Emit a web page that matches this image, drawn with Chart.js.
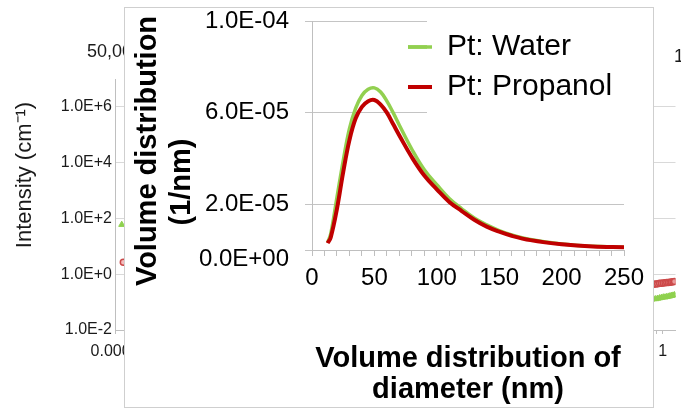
<!DOCTYPE html>
<html>
<head>
<meta charset="utf-8">
<script src="https://cdn.jsdelivr.net/npm/chart.js@4"></script>
<style>
  html, body { margin: 0; padding: 0; background: #fff; }
  #wrap { position: relative; width: 681px; height: 412px; overflow: hidden; }
  #bg { position: absolute; left: 0; top: 0; }
  #inset { position: absolute; left: 124px; top: 7px; width: 530px; height: 401px; box-sizing: border-box; border: 1px solid #cfcfcf; background: #fff; }
  #inset canvas { position: absolute; left: 0; top: 0; }
</style>
</head>
<body>
<div id="wrap">
  <canvas id="bg" width="681" height="412"></canvas>
  <div id="inset"><canvas id="myChart" width="528" height="399"></canvas></div>
</div>
<script>
Chart.defaults.font.family = "'Liberation Sans', Arial, sans-serif";

// inset: volume distribution of diameter
let diameters = [12.5, 15, 20, 25, 30, 35, 40, 45, 50, 55, 60, 65, 70, 80, 90, 100, 110, 120, 130, 140, 150, 160, 175, 200, 225, 250];
let water = [3.2e-6, 7e-6, 2.3e-5, 3.9e-5, 5.3e-5, 6.2e-5, 6.75e-5, 7.02e-5, 7.08e-5, 6.9e-5, 6.5e-5, 6.0e-5, 5.45e-5, 4.4e-5, 3.5e-5, 2.85e-5, 2.25e-5, 1.8e-5, 1.4e-5, 1.1e-5, 8.5e-6, 6.6e-6, 4.6e-6, 2.6e-6, 1.6e-6, 1.2e-6];
let propanol = [3.0e-6, 5.5e-6, 1.8e-5, 3.4e-5, 4.8e-5, 5.75e-5, 6.25e-5, 6.5e-5, 6.55e-5, 6.35e-5, 6.0e-5, 5.5e-5, 5.0e-5, 4.05e-5, 3.25e-5, 2.65e-5, 2.1e-5, 1.7e-5, 1.32e-5, 1.02e-5, 8.0e-6, 6.2e-6, 4.3e-6, 2.5e-6, 1.5e-6, 1.2e-6];
let labels = ['Pt: Water', 'Pt: Propanol'];
let colorHex = ['#92d050', '#c00000'];
let yTicks = [0, 2e-5, 6e-5, 1e-4];
let yTickLabels = ['0.0E+00', '2.0E-05', '6.0E-05', '1.0E-04'];

// background: intensity curves (only the visible edges)
let bgQ = [0.80, 0.83, 0.86, 0.89, 0.92, 0.95, 0.98, 1.01, 1.04, 1.07, 1.10, 1.13, 1.16, 1.19, 1.22];
let bgRed = [0.43, 0.44, 0.44, 0.45, 0.46, 0.47, 0.47, 0.48, 0.49, 0.50, 0.51, 0.52, 0.53, 0.54, 0.55];
let bgGreen = [0.12, 0.125, 0.13, 0.13, 0.135, 0.14, 0.145, 0.15, 0.15, 0.155, 0.16, 0.165, 0.17, 0.175, 0.18];
let bgRedLeft = [{x: 0.000115, y: 2.7}];
let bgGreenLeft = [{x: 0.000112, y: 60}];
let bgXTicks = [0.0001, 0.001, 0.01, 0.1, 1];
let bgXTickLabels = ['0.0001', '0.001', '0.01', '0.1', '1'];
let bgYTicks = [1e-2, 1, 1e2, 1e4, 1e6];
let bgYTickLabels = ['1.0E-2', '1.0E+0', '1.0E+2', '1.0E+4', '1.0E+6'];

const freeText = {
    id: 'freeText',
    afterDraw(chart, args, opts) {
        const c = chart.ctx;
        (opts.items || []).forEach(t => {
            c.save();
            c.translate(t.x, t.y);
            c.rotate(t.rot || 0);
            c.font = t.font;
            c.fillStyle = t.color || '#000';
            c.textAlign = t.align || 'center';
            c.textBaseline = 'middle';
            c.fillText(t.text, 0, 0);
            c.restore();
        });
    }
};

// background chart
let bgMinor = [];
bgXTicks.forEach(d => { for (let k = 1; k < 10; k++) { if (k * d <= 1.24) bgMinor.push(k * d); } });

new Chart(document.getElementById('bg').getContext('2d'), {
    type: 'scatter',
    data: {
        datasets: [{
            data: bgRedLeft.concat(bgQ.map((q, i) => ({x: q, y: bgRed[i]}))),
            pointStyle: 'circle',
            pointRadius: 3,
            borderWidth: 1.5,
            borderColor: '#cc4a4a',
            backgroundColor: 'rgba(236,160,160,0.7)'
        }, {
            data: bgGreenLeft.concat(bgQ.map((q, i) => ({x: q, y: bgGreen[i]}))),
            pointStyle: 'triangle',
            pointRadius: 3.5,
            borderWidth: 1,
            borderColor: '#8fd14f',
            backgroundColor: '#8fd14f'
        }]
    },
    options: {
        responsive: false,
        animation: false,
        layout: { padding: { top: 79, right: 0, left: 0, bottom: 0 } },
        scales: {
            x: {
                type: 'logarithmic',
                min: 0.0001,
                max: 1.24,
                afterFit: s => { s.height = 82; },
                afterBuildTicks: s => { s.ticks = bgMinor.map(v => ({value: v})); },
                grid: { drawOnChartArea: false, tickLength: 4, color: '#bfbfbf' },
                border: { color: '#bfbfbf' },
                ticks: {
                    autoSkip: false, maxRotation: 0, padding: 8, color: '#1a1a1a', font: { size: 16 },
                    callback: v => { const i = bgXTicks.indexOf(v); return i >= 0 ? bgXTickLabels[i] : ''; }
                }
            },
            y: {
                type: 'logarithmic',
                min: 0.01,
                max: 1e7,
                afterFit: s => { s.width = 115; },
                afterBuildTicks: s => { s.ticks = bgYTicks.map(v => ({value: v})); },
                grid: { color: '#d9d9d9', drawTicks: false },
                border: { color: '#bfbfbf' },
                ticks: {
                    padding: 3, color: '#1a1a1a', font: { size: 16 },
                    callback: (v, i) => bgYTickLabels[i]
                }
            }
        },
        plugins: {
            legend: { display: false },
            tooltip: { enabled: false },
            freeText: {
                items: [
                    { text: 'Intensity (cm\u207B\u00B9)', x: 25, y: 175, rot: -Math.PI / 2, font: "22px 'Liberation Sans', Arial, sans-serif", color: '#1a1a1a' },
                    { text: '50,000', x: 87, y: 52, align: 'left', font: "18px 'Liberation Sans', Arial, sans-serif", color: '#1a1a1a' },
                    { text: '100,000', x: 674, y: 57, align: 'left', font: "18px 'Liberation Sans', Arial, sans-serif", color: '#1a1a1a' }
                ]
            }
        }
    },
    plugins: [freeText]
});

// inset chart
let xTickValues = [];
for (let v = 0; v <= 250; v += 10) xTickValues.push(v);

const legendSpot = {
    id: 'legendSpot',
    afterLayout(chart) {
        const lg = chart.legend;
        lg.left = 273; lg.top = 14; lg.right = 528; lg.bottom = 130;
        lg.width = 255; lg.height = 116;
    },
    beforeDatasetsDraw(chart) {
        // legend box hides the grid lines behind it
        const c = chart.ctx;
        c.save();
        c.fillStyle = '#fff';
        c.fillRect(302, 0, 226, 118);
        c.restore();
        chart.legend.draw();
    }
};

let ctx = document.getElementById('myChart').getContext('2d');

let myChart = new Chart(ctx, {
    type: 'line',
    data: {
        datasets: [{
            label: labels[0],
            data: diameters.map((d, i) => ({x: d, y: water[i]})),
            borderColor: colorHex[0],
            backgroundColor: colorHex[0],
            borderWidth: 3.5,
            pointRadius: 0,
            tension: 0.4,
            order: 1
        }, {
            label: labels[1],
            data: diameters.map((d, i) => ({x: d, y: propanol[i]})),
            borderColor: colorHex[1],
            backgroundColor: colorHex[1],
            borderWidth: 4,
            pointRadius: 0,
            tension: 0.4,
            order: 0
        }]
    },
    options: {
        responsive: false,
        animation: false,
        layout: { padding: { top: 13, right: 29, left: 0, bottom: 0 } },
        scales: {
            x: {
                type: 'linear',
                min: 0,
                max: 250,
                afterFit: s => { s.height = 157; s.paddingLeft = 0; s.paddingRight = 0; },
                afterBuildTicks: s => { s.ticks = xTickValues.map(v => ({value: v})); },
                grid: { drawOnChartArea: false, tickLength: 6, color: '#bfbfbf' },
                border: { color: '#bfbfbf' },
                ticks: {
                    autoSkip: false, maxRotation: 0, padding: 8, color: '#000', font: { size: 24 },
                    callback: v => v % 50 === 0 ? String(v) : ''
                },
                title: {
                    display: true,
                    text: ['Volume distribution of', 'diameter (nm)'],
                    color: '#000',
                    font: { size: 29, weight: 'bold', lineHeight: 1.07 },
                    padding: { top: 0, bottom: 1 }
                }
            },
            y: {
                min: 0,
                max: 1e-4,
                afterFit: s => { s.width = 187; s.paddingTop = 0; s.paddingBottom = 0; },
                afterBuildTicks: s => { s.ticks = yTicks.map(v => ({value: v})); },
                grid: { color: '#c4c4c4', tickLength: 7 },
                border: { color: '#bfbfbf' },
                ticks: {
                    padding: 16, color: '#000', font: { size: 24, lineHeight: 0.75 },
                    callback: (v, i) => i === 0 ? ['', yTickLabels[i]] : yTickLabels[i]
                }
            }
        },
        plugins: {
            tooltip: { enabled: false },
            legend: {
                position: 'chartArea',
                align: 'start',
                labels: {
                    usePointStyle: true,
                    pointStyle: 'line',
                    pointStyleWidth: 24,
                    padding: 10,
                    color: '#000',
                    font: { size: 30 },
                    sort: (a, b) => a.datasetIndex - b.datasetIndex
                }
            },
            freeText: {
                items: [
                    { text: 'Volume distribution', x: 23, y: 143, rot: -Math.PI / 2, font: "bold 29px 'Liberation Sans', Arial, sans-serif" },
                    { text: '(1/nm)', x: 57, y: 174, rot: -Math.PI / 2, font: "bold 29px 'Liberation Sans', Arial, sans-serif" }
                ]
            }
        }
    },
    plugins: [legendSpot, freeText]
});
</script>
</body>
</html>
